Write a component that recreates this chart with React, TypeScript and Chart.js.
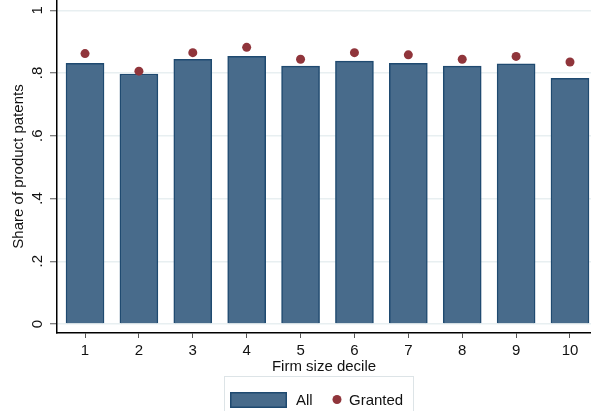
import React, { useEffect, useRef } from 'react';
import { Chart, registerables } from 'chart.js';

Chart.register(...registerables);

const categories = ['1', '2', '3', '4', '5', '6', '7', '8', '9', '10'];
const deciles = [1, 2, 3, 4, 5, 6, 7, 8, 9, 10];
const allShare = [0.831, 0.797, 0.844, 0.853, 0.822, 0.838, 0.831, 0.822, 0.829, 0.783];
const grantedShare = [0.862, 0.806, 0.865, 0.882, 0.844, 0.865, 0.858, 0.844, 0.853, 0.835];
const yTickValues = [0, 0.2, 0.4, 0.6, 0.8, 1];
const yTickLabels = ['0', '.2', '.4', '.6', '.8', '1'];
const seriesLabels = ['All', 'Granted'];

const FONT = '"Liberation Sans", Arial, sans-serif';
const TEXT = '#111';
const BAR_FILL = '#486b8b';
const BAR_BORDER = '#1f4a70';
const DOT = '#90353b';

const legendPlugin = {
  id: 'stataLegend',
  afterDraw(chart: any) {
    const ctx = chart.ctx as CanvasRenderingContext2D;
    const ds = chart.data.datasets;
    ctx.save();
    ctx.strokeStyle = '#dde4e7';
    ctx.lineWidth = 1;
    ctx.strokeRect(224.5, 376.5, 189, 40);
    ctx.fillStyle = ds[0].backgroundColor;
    ctx.fillRect(230, 392, 57, 16);
    ctx.strokeStyle = ds[0].borderColor;
    ctx.lineWidth = 1.5;
    ctx.strokeRect(230.75, 392.75, 55.5, 14.5);
    ctx.font = `15px ${FONT}`;
    ctx.fillStyle = TEXT;
    ctx.textBaseline = 'alphabetic';
    ctx.textAlign = 'left';
    ctx.fillText(ds[0].label, 296, 405);
    ctx.beginPath();
    ctx.arc(337, 399.5, 4.5, 0, Math.PI * 2);
    ctx.fillStyle = ds[1].backgroundColor;
    ctx.fill();
    ctx.fillStyle = TEXT;
    ctx.fillText(ds[1].label, 349, 405);
    ctx.restore();
  },
};

export default function App() {
  const ref = useRef<HTMLCanvasElement | null>(null);
  useEffect(() => {
    if (!ref.current) return;
    const chart = new Chart(ref.current, {
      type: 'bar',
      data: {
        datasets: [
          {
            type: 'bar',
            label: seriesLabels[0],
            data: deciles.map((d, i) => ({ x: d, y: allShare[i] })),
            backgroundColor: BAR_FILL,
            borderColor: BAR_BORDER,
            borderWidth: 1.5,
            barThickness: 38,
            order: 2,
          } as any,
          {
            type: 'scatter',
            label: seriesLabels[1],
            data: deciles.map((d, i) => ({ x: d, y: grantedShare[i] })),
            backgroundColor: DOT,
            borderColor: DOT,
            borderWidth: 0,
            pointRadius: 4.5,
            order: 1,
          } as any,
        ],
      },
      options: {
        animation: false,
        responsive: false,
        devicePixelRatio: 1,
        layout: { autoPadding: false, padding: { left: 0, right: 0, top: 0, bottom: 35 } },
        plugins: {
          legend: { display: false },
          tooltip: { enabled: false },
        },
        scales: {
          x: {
            type: 'linear',
            offset: false,
            min: 0.48,
            max: 10.39,
            afterBuildTicks: (scale: any) => {
              scale.ticks = deciles.map((v) => ({ value: v }));
            },
            afterFit: (scale: any) => {
              scale.height = 43;
              scale.paddingLeft = 0;
              scale.paddingRight = 0;
            },
            ticks: {
              callback: (v: any) => categories[deciles.indexOf(Number(v))] ?? '',
              font: { family: FONT, size: 15 },
              color: TEXT,
              padding: 4,
              maxRotation: 0,
              minRotation: 0,
              autoSkip: false,
            },
            grid: {
              offset: false,
              drawOnChartArea: false,
              tickLength: 5,
              tickColor: '#555',
              tickWidth: 1,
            },
            border: { color: '#000', width: 1.5 },
            title: {
              display: true,
              text: 'Firm size decile',
              font: { family: FONT, size: 15 },
              color: TEXT,
              padding: { top: 0, bottom: 0 },
            },
          },
          y: {
            type: 'linear',
            min: -0.0287,
            max: 1.0328,
            afterBuildTicks: (scale: any) => {
              scale.ticks = yTickValues.map((v) => ({ value: v }));
            },
            afterFit: (scale: any) => {
              scale.width = 57;
              scale.paddingTop = 0;
              scale.paddingBottom = 0;
            },
            ticks: {
              callback: (v: any) => {
                const i = yTickValues.findIndex((t) => Math.abs(t - Number(v)) < 1e-6);
                return i >= 0 ? yTickLabels[i] : '';
              },
              font: { family: FONT, size: 15 },
              color: TEXT,
              minRotation: 90,
              maxRotation: 90,
              crossAlign: 'center',
              padding: 6,
              autoSkip: false,
            },
            grid: {
              color: '#e8eff1',
              lineWidth: 1.5,
              tickLength: 7,
              tickColor: '#555',
              tickWidth: 1,
            },
            border: { color: '#000', width: 1.5 },
            title: {
              display: true,
              text: 'Share of product patents',
              font: { family: FONT, size: 15 },
              color: TEXT,
              padding: { top: 10, bottom: 0 },
            },
          },
        },
      },
      plugins: [legendPlugin],
    });
    return () => chart.destroy();
  }, []);
  return (
    <div style={{ position: 'fixed', left: 0, top: 0, width: 591, height: 411 }}>
      <canvas ref={ref} width={591} height={411} />
    </div>
  );
}
